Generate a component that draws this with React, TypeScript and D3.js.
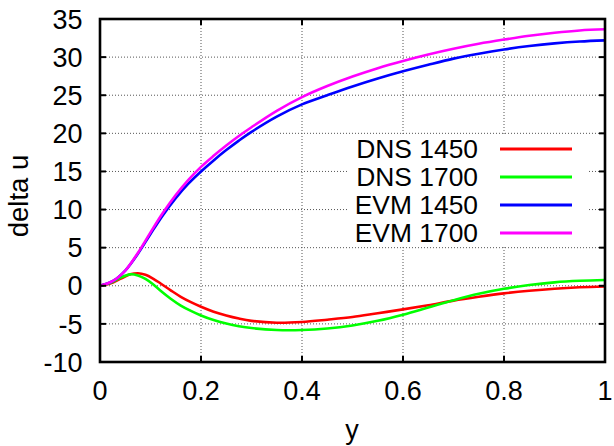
import React, { useEffect, useRef } from "react";
import * as d3 from "d3";

const xEVM = [0, 0.025, 0.05, 0.075, 0.1, 0.125, 0.15, 0.175, 0.2, 0.225, 0.25, 0.275, 0.3, 0.35, 0.4, 0.45, 0.5, 0.55, 0.6, 0.65, 0.7, 0.75, 0.8, 0.85, 0.9, 0.95, 1.0];
const evm1450 = [0, 0.6, 2.0, 4.2, 6.8, 9.3, 11.5, 13.4, 15.0, 16.45, 17.8, 19.05, 20.2, 22.2, 23.8, 25.0, 26.15, 27.2, 28.15, 29.0, 29.8, 30.45, 31.0, 31.45, 31.8, 32.05, 32.2];
const evm1700 = [0, 0.6, 2.0, 4.3, 7.0, 9.6, 11.9, 13.9, 15.6, 17.05, 18.4, 19.65, 20.8, 22.95, 24.75, 26.2, 27.45, 28.55, 29.5, 30.35, 31.1, 31.75, 32.3, 32.8, 33.2, 33.5, 33.65];

const xDNS1450 = [0, 0.02, 0.04, 0.06, 0.075, 0.09, 0.105, 0.12, 0.14, 0.16, 0.18, 0.2, 0.225, 0.25, 0.275, 0.3, 0.35, 0.4, 0.45, 0.5, 0.55, 0.6, 0.65, 0.7, 0.75, 0.8, 0.85, 0.9, 0.95, 1.0];
const dns1450 = [0, 0.3, 0.9, 1.5, 1.65, 1.45, 0.95, 0.3, -0.6, -1.45, -2.15, -2.75, -3.4, -3.9, -4.3, -4.6, -4.85, -4.75, -4.45, -4.1, -3.6, -3.1, -2.55, -1.95, -1.45, -1.0, -0.65, -0.38, -0.2, -0.1];

const xDNS1700 = [0, 0.02, 0.04, 0.06, 0.075, 0.09, 0.105, 0.12, 0.14, 0.16, 0.18, 0.2, 0.225, 0.25, 0.275, 0.3, 0.35, 0.4, 0.45, 0.5, 0.55, 0.6, 0.65, 0.7, 0.75, 0.8, 0.85, 0.9, 0.95, 1.0];
const dns1700 = [0, 0.35, 1.05, 1.5, 1.35, 0.9, 0.2, -0.65, -1.7, -2.6, -3.3, -3.9, -4.5, -4.95, -5.3, -5.55, -5.8, -5.8, -5.6, -5.2, -4.6, -3.8, -2.85, -1.9, -1.05, -0.4, 0.1, 0.45, 0.65, 0.75];

const xTicks = [0, 0.2, 0.4, 0.6, 0.8, 1];
const xTickLabels = ["0", "0.2", "0.4", "0.6", "0.8", "1"];
const yTicks = [-10, -5, 0, 5, 10, 15, 20, 25, 30, 35];
const yTickLabels = ["-10", "-5", "0", "5", "10", "15", "20", "25", "30", "35"];

const seriesNames = ["DNS 1450", "DNS 1700", "EVM 1450", "EVM 1700"];
const seriesColors = ["#ff0000", "#00ff00", "#0000ff", "#ff00ff"];

export default function App() {
  const ref = useRef<SVGSVGElement>(null);

  useEffect(() => {
    const svg = d3.select(ref.current);
    svg.selectAll("*").remove();
    const L = 100, R = 605, T = 19, B = 362;
    const x = d3.scaleLinear().domain([0, 1]).range([L, R]);
    const y = d3.scaleLinear().domain([-10, 35]).range([B, T]);
    const font = "Liberation Sans, Arial, Helvetica, sans-serif";
    const fs = 27;

    // grid
    const g = svg.append("g");
    xTicks.slice(1, -1).forEach((t) => {
      g.append("line").attr("x1", x(t)).attr("x2", x(t)).attr("y1", T).attr("y2", B)
        .attr("stroke", "#555").attr("stroke-width", 1).attr("stroke-dasharray", "1,2");
    });
    yTicks.slice(1, -1).forEach((t) => {
      g.append("line").attr("x1", L).attr("x2", R).attr("y1", y(t)).attr("y2", y(t))
        .attr("stroke", "#555").attr("stroke-width", 1).attr("stroke-dasharray", "1,2");
    });

    // legend background
    svg.append("rect").attr("x", 348).attr("y", 135).attr("width", 240).attr("height", 112).attr("fill", "#fff");

    const data: [number[], number[]][] = [
      [xDNS1450, dns1450],
      [xDNS1700, dns1700],
      [xEVM, evm1450],
      [xEVM, evm1700],
    ];
    const line = d3.line<[number, number]>().x((d) => x(d[0])).y((d) => y(d[1])).curve(d3.curveCatmullRom.alpha(0.5));
    data.forEach(([xs, ys], i) => {
      const pts = xs.map((v, j) => [v, ys[j]] as [number, number]);
      svg.append("path").attr("d", line(pts)).attr("fill", "none")
        .attr("stroke", seriesColors[i]).attr("stroke-width", 2.6);
    });

    // legend
    seriesNames.forEach((n, i) => {
      const cy = 149 + i * 28;
      svg.append("text").attr("x", 478).attr("y", cy + 9.3).attr("text-anchor", "end")
        .attr("font-family", font).attr("font-size", 26.4).text(n);
      svg.append("line").attr("x1", 500).attr("x2", 572).attr("y1", cy).attr("y2", cy)
        .attr("stroke", seriesColors[i]).attr("stroke-width", 3);
    });

    // ticks
    const tk = svg.append("g").attr("stroke", "#000").attr("stroke-width", 2);
    xTicks.forEach((t) => {
      tk.append("line").attr("x1", x(t)).attr("x2", x(t)).attr("y1", B).attr("y2", B - 6);
      tk.append("line").attr("x1", x(t)).attr("x2", x(t)).attr("y1", T).attr("y2", T + 6);
    });
    yTicks.forEach((t) => {
      tk.append("line").attr("x1", L).attr("x2", L + 6).attr("y1", y(t)).attr("y2", y(t));
      tk.append("line").attr("x1", R).attr("x2", R - 6).attr("y1", y(t)).attr("y2", y(t));
    });

    // border
    svg.append("rect").attr("x", L).attr("y", T).attr("width", R - L).attr("height", B - T)
      .attr("fill", "none").attr("stroke", "#000").attr("stroke-width", 2.6);

    // tick labels
    yTicks.forEach((t, i) => {
      svg.append("text").attr("x", 82.5).attr("y", y(t) + 9.7).attr("text-anchor", "end")
        .attr("font-family", font).attr("font-size", fs).text(yTickLabels[i]);
    });
    xTicks.forEach((t, i) => {
      svg.append("text").attr("x", x(t)).attr("y", 399.5).attr("text-anchor", "middle")
        .attr("font-family", font).attr("font-size", fs).text(xTickLabels[i]);
    });

    svg.append("text").attr("x", 352).attr("y", 439).attr("text-anchor", "middle")
      .attr("font-family", font).attr("font-size", fs).text("y");
    svg.append("text").attr("transform", "translate(28.3,196) rotate(-90)").attr("text-anchor", "middle")
      .attr("font-family", font).attr("font-size", 27.5).text("delta u");
  }, []);

  return (
    <svg ref={ref} width={614} height={446}
      style={{ position: "absolute", left: 0, top: 0, background: "#fff" }} />
  );
}
